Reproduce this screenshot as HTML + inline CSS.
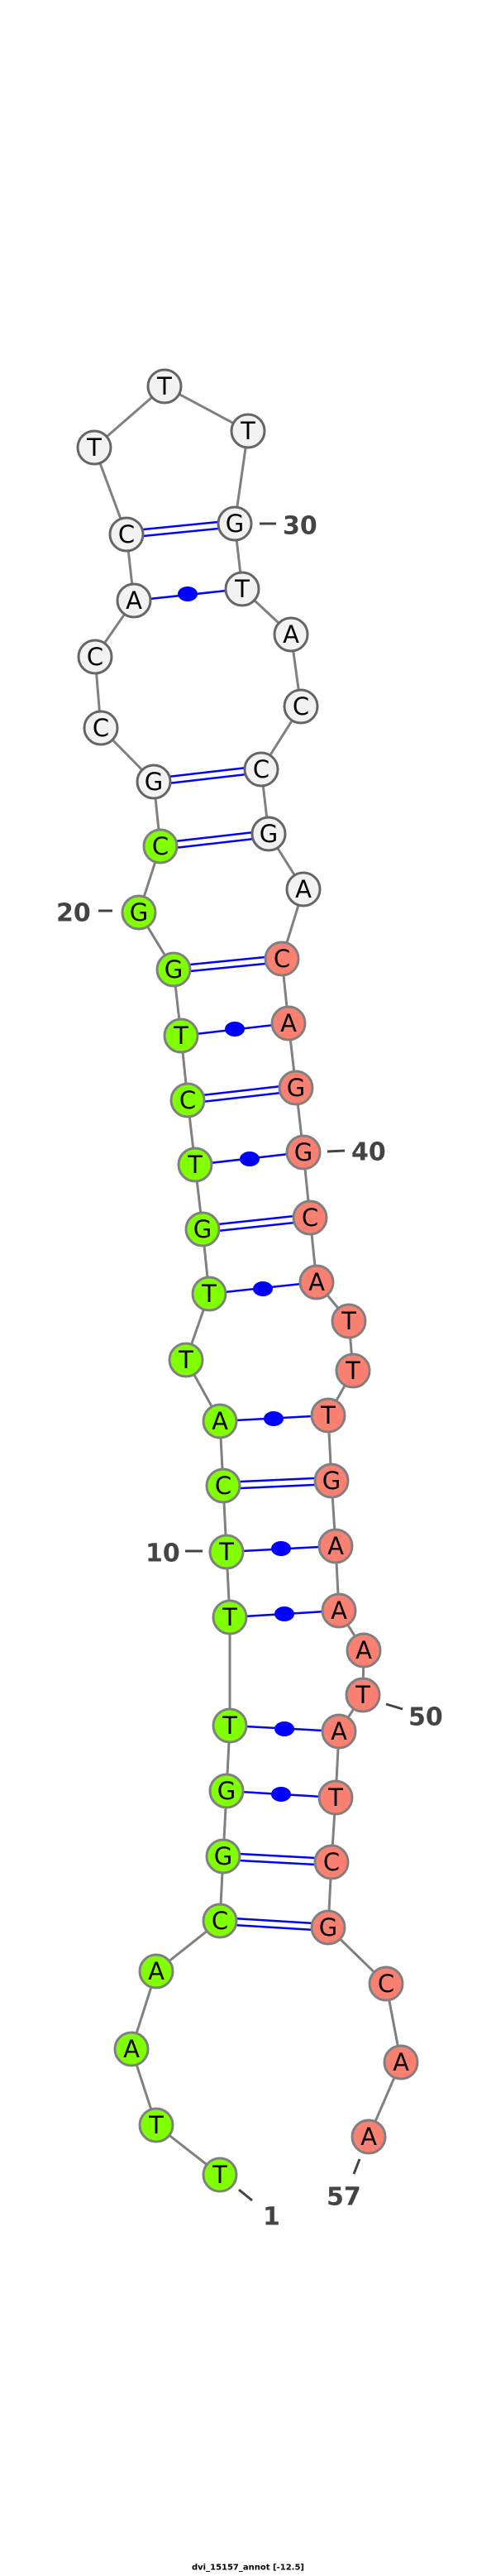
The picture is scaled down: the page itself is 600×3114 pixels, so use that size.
<!DOCTYPE html>
<html><head><meta charset="utf-8"><style>
html,body{margin:0;padding:0;background:#fff;}
svg{display:block;}
.bb{stroke:#808080;stroke-width:3;fill:none;}
.bp{stroke:#0000ff;stroke-width:2.5;}
.n text{font-family:"DejaVu Sans","Liberation Sans",sans-serif;font-size:29px;text-anchor:middle;dominant-baseline:central;fill:#000;}
.lbl{font-family:"DejaVu Sans","Liberation Sans",sans-serif;font-size:30px;font-weight:bold;fill:#444;dominant-baseline:central;}
.tk{stroke:#444;stroke-width:3;}
</style></head><body>
<svg width="600" height="3114" viewBox="0 0 600 3114" xmlns="http://www.w3.org/2000/svg">
<polyline class="bb" points="266,2629 189,2569 159,2477 189,2383 266,2322 270,2244 274,2165 278,2086 278,1955 274,1876 270,1796 266,1718 225,1644 253,1564 245,1486 236,1408 227,1330 219,1252 210,1172 168,1103 194,1023 186,945 122,880 115,794 162,726 153,646 114,541 199,467 300,521 284,633 293,712 352,767 364,854 316,930 325,1008 367,1075 341,1159 349,1237 358,1315 367,1393 375,1472 383,1550 422,1597 427,1657 397,1711 401,1790 406,1869 410,1947 440,1995 439,2049 410,2093 406,2173 401,2251 397,2330 467,2398 485,2493 446,2583"/>
<g class="bp">
<!-- double lines -->
<line x1="266" y1="2318" x2="397" y2="2326"/><line x1="266" y1="2326" x2="397" y2="2334"/>
<line x1="270" y1="2240" x2="401" y2="2247"/><line x1="270" y1="2248" x2="401" y2="2255"/>
<line x1="270" y1="1792" x2="401" y2="1786"/><line x1="270" y1="1800" x2="401" y2="1794"/>
<line x1="245" y1="1482" x2="375" y2="1468"/><line x1="245" y1="1490" x2="375" y2="1476"/>
<line x1="227" y1="1326" x2="358" y2="1311"/><line x1="227" y1="1334" x2="358" y2="1319"/>
<line x1="210" y1="1168" x2="341" y2="1155"/><line x1="210" y1="1176" x2="341" y2="1163"/>
<line x1="194" y1="1019" x2="325" y2="1004"/><line x1="194" y1="1027" x2="325" y2="1012"/>
<line x1="186" y1="941" x2="316" y2="926"/><line x1="186" y1="949" x2="316" y2="934"/>
<line x1="153" y1="642" x2="284" y2="629"/><line x1="153" y1="650" x2="284" y2="637"/>
<!-- single lines -->
<line x1="274" y1="2165" x2="406" y2="2173"/>
<line x1="278" y1="2086" x2="410" y2="2093"/>
<line x1="278" y1="1955" x2="410" y2="1947"/>
<line x1="274" y1="1876" x2="406" y2="1869"/>
<line x1="266" y1="1718" x2="397" y2="1711"/>
<line x1="253" y1="1564" x2="383" y2="1550"/>
<line x1="236" y1="1408" x2="367" y2="1393"/>
<line x1="219" y1="1252" x2="349" y2="1237"/>
<line x1="162" y1="726" x2="293" y2="712"/>
</g>
<g fill="#0000ff">
<ellipse cx="340" cy="2169" rx="12" ry="9"/>
<ellipse cx="344" cy="2090" rx="12" ry="9"/>
<ellipse cx="344" cy="1951" rx="12" ry="9"/>
<ellipse cx="340" cy="1872" rx="12" ry="9"/>
<ellipse cx="331" cy="1715" rx="12" ry="9"/>
<ellipse cx="318" cy="1558" rx="12" ry="9"/>
<ellipse cx="302" cy="1401" rx="12" ry="9"/>
<ellipse cx="284" cy="1244" rx="12" ry="9"/>
<ellipse cx="227" cy="718" rx="12" ry="9"/>
</g>
<g class="n" stroke-width="3">
<g fill="#7fff00" stroke="#808080">
<circle cx="266" cy="2629" r="20"/><circle cx="189" cy="2569" r="20"/><circle cx="159" cy="2477" r="20"/><circle cx="189" cy="2383" r="20"/><circle cx="266" cy="2322" r="20"/><circle cx="270" cy="2244" r="20"/><circle cx="274" cy="2165" r="20"/><circle cx="278" cy="2086" r="20"/><circle cx="278" cy="1955" r="20"/><circle cx="274" cy="1876" r="20"/><circle cx="270" cy="1796" r="20"/><circle cx="266" cy="1718" r="20"/><circle cx="225" cy="1644" r="20"/><circle cx="253" cy="1564" r="20"/><circle cx="245" cy="1486" r="20"/><circle cx="236" cy="1408" r="20"/><circle cx="227" cy="1330" r="20"/><circle cx="219" cy="1252" r="20"/><circle cx="210" cy="1172" r="20"/><circle cx="168" cy="1103" r="20"/><circle cx="194" cy="1023" r="20"/>
</g>
<g fill="#f2f2f2" stroke="#666">
<circle cx="186" cy="945" r="20"/><circle cx="122" cy="880" r="20"/><circle cx="115" cy="794" r="20"/><circle cx="162" cy="726" r="20"/><circle cx="153" cy="646" r="20"/><circle cx="114" cy="541" r="20"/><circle cx="199" cy="467" r="20"/><circle cx="300" cy="521" r="20"/><circle cx="284" cy="633" r="20"/><circle cx="293" cy="712" r="20"/><circle cx="352" cy="767" r="20"/><circle cx="364" cy="854" r="20"/><circle cx="316" cy="930" r="20"/><circle cx="325" cy="1008" r="20"/><circle cx="367" cy="1075" r="20"/>
</g>
<g fill="#fa8072" stroke="#808080">
<circle cx="341" cy="1159" r="20"/><circle cx="349" cy="1237" r="20"/><circle cx="358" cy="1315" r="20"/><circle cx="367" cy="1393" r="20"/><circle cx="375" cy="1472" r="20"/><circle cx="383" cy="1550" r="20"/><circle cx="422" cy="1597" r="20"/><circle cx="427" cy="1657" r="20"/><circle cx="397" cy="1711" r="20"/><circle cx="401" cy="1790" r="20"/><circle cx="406" cy="1869" r="20"/><circle cx="410" cy="1947" r="20"/><circle cx="440" cy="1995" r="20"/><circle cx="439" cy="2049" r="20"/><circle cx="410" cy="2093" r="20"/><circle cx="406" cy="2173" r="20"/><circle cx="401" cy="2251" r="20"/><circle cx="397" cy="2330" r="20"/><circle cx="467" cy="2398" r="20"/><circle cx="485" cy="2493" r="20"/><circle cx="446" cy="2583" r="20"/>
</g>
<text x="266" y="2629">T</text><text x="189" y="2569">T</text><text x="159" y="2477">A</text><text x="189" y="2383">A</text><text x="266" y="2322">C</text><text x="270" y="2244">G</text><text x="274" y="2165">G</text><text x="278" y="2086">T</text><text x="278" y="1955">T</text><text x="274" y="1876">T</text><text x="270" y="1796">C</text><text x="266" y="1718">A</text><text x="225" y="1644">T</text><text x="253" y="1564">T</text><text x="245" y="1486">G</text><text x="236" y="1408">T</text><text x="227" y="1330">C</text><text x="219" y="1252">T</text><text x="210" y="1172">G</text><text x="168" y="1103">G</text><text x="194" y="1023">C</text>
<text x="186" y="945">G</text><text x="122" y="880">C</text><text x="115" y="794">C</text><text x="162" y="726">A</text><text x="153" y="646">C</text><text x="114" y="541">T</text><text x="199" y="467">T</text><text x="300" y="521">T</text><text x="284" y="633">G</text><text x="293" y="712">T</text><text x="352" y="767">A</text><text x="364" y="854">C</text><text x="316" y="930">C</text><text x="325" y="1008">G</text><text x="367" y="1075">A</text>
<text x="341" y="1159">C</text><text x="349" y="1237">A</text><text x="358" y="1315">G</text><text x="367" y="1393">G</text><text x="375" y="1472">C</text><text x="383" y="1550">A</text><text x="422" y="1597">T</text><text x="427" y="1657">T</text><text x="397" y="1711">T</text><text x="401" y="1790">G</text><text x="406" y="1869">A</text><text x="410" y="1947">A</text><text x="440" y="1995">A</text><text x="439" y="2049">T</text><text x="410" y="2093">A</text><text x="406" y="2173">T</text><text x="401" y="2251">C</text><text x="397" y="2330">G</text><text x="467" y="2398">C</text><text x="485" y="2493">A</text><text x="446" y="2583">A</text>
</g>
<g>
<line class="tk" x1="289" y1="2647" x2="305" y2="2660"/><text class="lbl" x="318" y="2680">1</text>
<line class="tk" x1="224" y1="1875" x2="245" y2="1875"/><text class="lbl" x="176" y="1878">10</text>
<line class="tk" x1="119" y1="1101" x2="136" y2="1101"/><text class="lbl" x="68" y="1104">20</text>
<line class="tk" x1="314" y1="633" x2="334" y2="633"/><text class="lbl" x="342" y="636">30</text>
<line class="tk" x1="396" y1="1392" x2="417" y2="1391"/><text class="lbl" x="425" y="1393">40</text>
<line class="tk" x1="467" y1="2060" x2="487" y2="2066"/><text class="lbl" x="494" y="2076">50</text>
<line class="tk" x1="435" y1="2610" x2="428" y2="2628"/><text class="lbl" x="395" y="2656">57</text>
</g>
<text x="300" y="3104" font-family="DejaVu Sans, Liberation Sans, sans-serif" font-size="10" font-weight="bold" text-anchor="middle" dominant-baseline="central" fill="#000">dvi_15157_annot [-12.5]</text>
</svg>
</body></html>
